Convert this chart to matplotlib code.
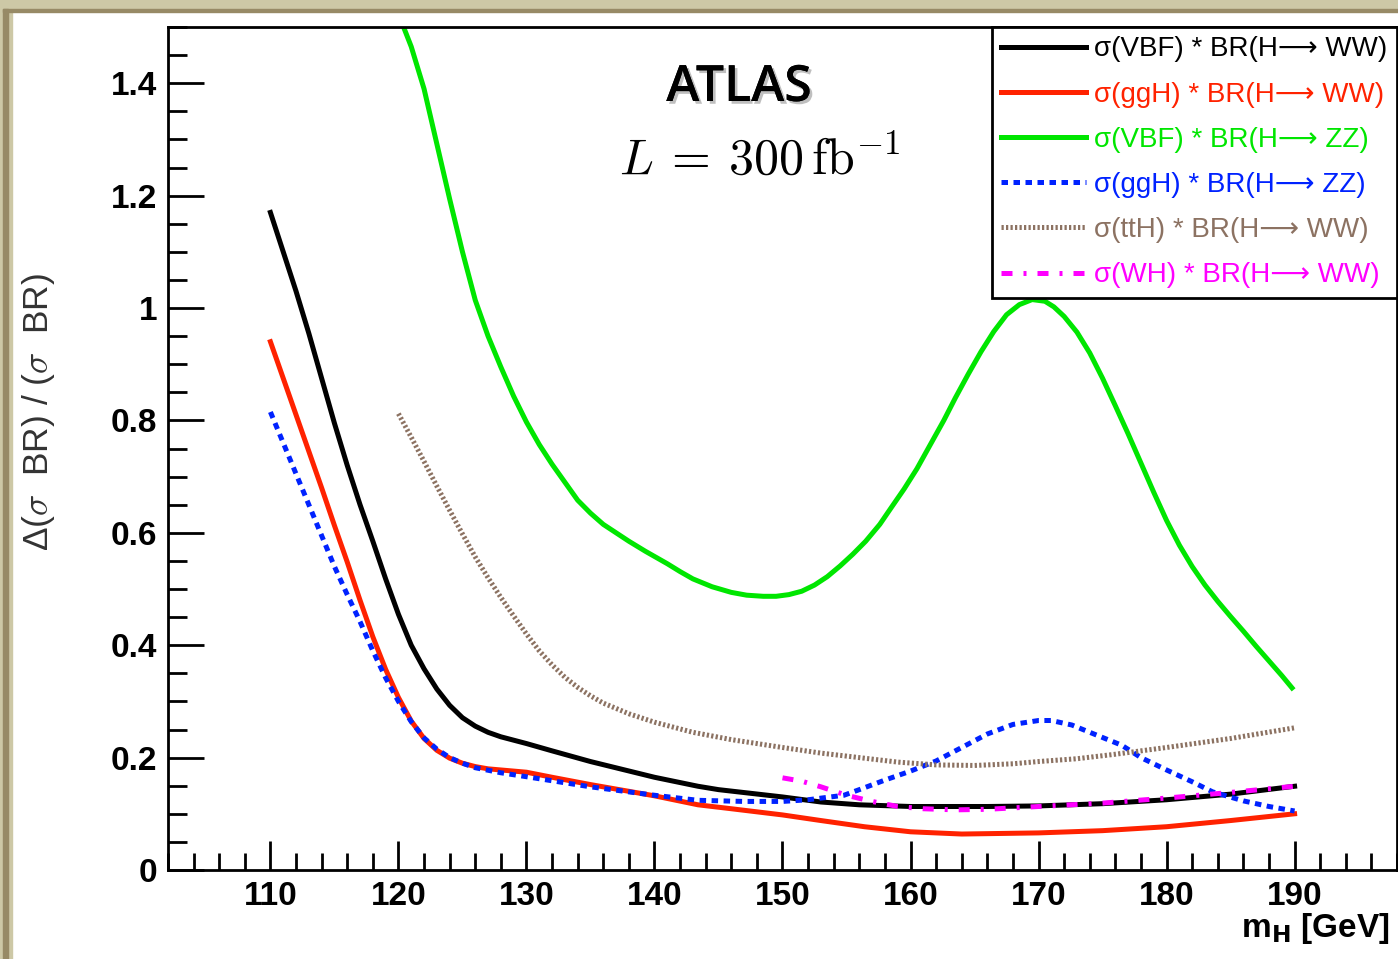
import matplotlib
matplotlib.use("Agg")
import matplotlib.pyplot as plt
import matplotlib.patheffects as pe
from matplotlib.patches import Rectangle
from matplotlib.ticker import MultipleLocator, FuncFormatter

# ---- data (m_H in GeV, relative error) ----
vbf_ww_m = [110, 111, 112, 113, 114, 115, 116, 117, 118, 119, 120, 121, 122, 123, 124,
            125, 126, 127, 128, 130, 132, 135, 140, 143.4, 145, 150, 153, 156, 160, 163,
            166, 170, 175, 180, 185, 190]
vbf_ww = [1.17, 1.10, 1.03, 0.955, 0.875, 0.795, 0.72, 0.65, 0.585, 0.518, 0.455, 0.40,
          0.358, 0.322, 0.293, 0.271, 0.256, 0.245, 0.237, 0.225, 0.212, 0.193, 0.165,
          0.149, 0.143, 0.13, 0.121, 0.116, 0.113, 0.113, 0.113, 0.114, 0.118, 0.125,
          0.135, 0.149]

ggh_ww_m = [110, 111, 112, 113, 114, 115, 116, 117, 118, 119, 120, 121, 122, 123, 124,
            125, 126, 127, 128, 129, 130, 132, 135, 140, 143.4, 146, 150, 153, 156.4, 160,
            164, 167, 170, 175, 180, 185, 190]
ggh_ww = [0.94, 0.875, 0.81, 0.745, 0.68, 0.613, 0.548, 0.48, 0.415, 0.357, 0.307, 0.265,
          0.234, 0.213, 0.199, 0.19, 0.184, 0.18, 0.178, 0.176, 0.174, 0.165, 0.152,
          0.132, 0.116, 0.109, 0.098, 0.088, 0.077, 0.068, 0.064, 0.065, 0.066, 0.07,
          0.077, 0.088, 0.10]

vbf_zz_m = [120, 120.4, 121, 122, 123, 124, 125, 126, 127, 128, 129, 130, 131, 132, 133,
            134, 135, 136, 137, 138, 139.3, 141, 142, 143, 144.5, 146, 147.2, 148.5, 149.5,
            150.5, 151.5, 152.5, 153.5, 154.5, 155.5, 156.5, 157.6, 158.5, 159.5, 160.5,
            161.5, 162.6, 163.5, 164.5, 165.5, 166.5, 167.5, 168.5, 169.5, 170.5, 171.2,
            172, 173, 174, 175, 176, 177, 178, 179, 180, 181, 182, 183, 184, 185, 186,
            187, 188, 189, 189.8]
vbf_zz = [1.53, 1.50, 1.465, 1.39, 1.292, 1.194, 1.10, 1.014, 0.95, 0.895, 0.843, 0.797,
          0.757, 0.722, 0.69, 0.658, 0.635, 0.615, 0.60, 0.585, 0.567, 0.545, 0.531, 0.518,
          0.504, 0.494, 0.489, 0.487, 0.487, 0.49, 0.496, 0.507, 0.522, 0.541, 0.562,
          0.585, 0.615, 0.645, 0.678, 0.714, 0.755, 0.80, 0.84, 0.882, 0.922, 0.958,
          0.988, 1.006, 1.015, 1.012, 1.002, 0.985, 0.957, 0.92, 0.875, 0.826, 0.776,
          0.724, 0.672, 0.622, 0.578, 0.54, 0.507, 0.478, 0.451, 0.425, 0.398, 0.372,
          0.346, 0.324]

ggh_zz_m = [110, 111, 112, 113, 114, 115, 116, 117, 118, 119, 120, 121, 122, 123, 124,
            125, 126, 128, 130, 135, 140, 143.4, 147, 150, 152, 154.8, 156, 158, 160, 162,
            164, 166, 168, 170, 171, 172.6, 174, 176.5, 178, 180, 182, 183.6, 186, 188, 190]
ggh_zz = [0.815, 0.76, 0.705, 0.65, 0.595, 0.54, 0.49, 0.442, 0.39, 0.342, 0.30, 0.264,
          0.235, 0.215, 0.20, 0.19, 0.182, 0.173, 0.166, 0.148, 0.133, 0.124, 0.122,
          0.122, 0.125, 0.133, 0.143, 0.16, 0.176, 0.194, 0.218, 0.242, 0.259, 0.266,
          0.266, 0.258, 0.245, 0.222, 0.20, 0.178, 0.157, 0.139, 0.123, 0.113, 0.105]

tth_ww_m = [120, 121, 122, 123, 124, 125, 126, 127, 128, 129, 130, 131, 132, 133, 134, 135,
            136, 138, 140, 143, 146, 150, 153, 156, 159, 162, 165, 168, 170, 173, 176,
            180, 185, 190]
tth_ww = [0.812, 0.77, 0.727, 0.683, 0.64, 0.598, 0.557, 0.52, 0.485, 0.452, 0.42, 0.39,
          0.365, 0.343, 0.325, 0.31, 0.297, 0.278, 0.263, 0.245, 0.232, 0.218, 0.208,
          0.20, 0.192, 0.187, 0.186, 0.189, 0.193, 0.198, 0.206, 0.218, 0.234, 0.253]

wh_ww_m = [150, 151.5, 153, 155, 157, 159, 161, 163.5, 166, 170, 175, 180, 185, 190]
wh_ww = [0.164, 0.158, 0.148, 0.133, 0.122, 0.113, 0.109, 0.107, 0.108, 0.113, 0.119,
         0.128, 0.138, 0.149]

labels = [
    "σ(VBF) * BR(H⟶ WW)",
    "σ(ggH) * BR(H⟶ WW)",
    "σ(VBF) * BR(H⟶ ZZ)",
    "σ(ggH) * BR(H⟶ ZZ)",
    "σ(ttH) * BR(H⟶ WW)",
    "σ(WH) * BR(H⟶ WW)",
]

# ---- figure ----
W, H = 1398, 959
fig = plt.figure(figsize=(W / 100, H / 100), dpi=100)
fig.patch.set_facecolor("white")

# slide frame in the corner of the screenshot
fig.patches.append(Rectangle((0, 1 - 10 / H), 1, 10 / H, transform=fig.transFigure,
                             color="#cdc8a6", zorder=-5))
fig.patches.append(Rectangle((3 / W, 1 - 12 / H), 1, 3 / H, transform=fig.transFigure,
                             color="#978a66", zorder=-4))
fig.patches.append(Rectangle((0, 0), 12 / W, 1, transform=fig.transFigure,
                             color="#cdc8a6", zorder=-5))
fig.patches.append(Rectangle((3 / W, 0), 5 / W, 1 - 9 / H, transform=fig.transFigure,
                             color="#978a66", zorder=-4))

ax = fig.add_axes([168 / W, 1 - 870 / H, 1229 / W, 843 / H])

lw = 3.6
ax.plot(vbf_ww_m, vbf_ww, color="black", lw=lw, label=labels[0])
ax.plot(ggh_ww_m, ggh_ww, color="#ff2200", lw=lw, label=labels[1])
ax.plot(vbf_zz_m, vbf_zz, color="#00e600", lw=lw, label=labels[2])
ax.plot(ggh_zz_m, ggh_zz, color="#0022ff", lw=lw, ls=(0, (1.3, 1.1)), label=labels[3])
ax.plot(tth_ww_m, tth_ww, color="#8c7262", lw=lw, ls=(0, (0.45, 0.45)), label=labels[4])
ax.plot(wh_ww_m, wh_ww, color="#ff00ff", lw=lw, ls=(0, (2.2, 2.2, 0.6, 2.2)), label=labels[5])

ax.set_xlim(102, 198)
ax.set_ylim(0, 1.5)

ax.xaxis.set_major_locator(MultipleLocator(10))
ax.xaxis.set_minor_locator(MultipleLocator(2))
ax.yaxis.set_major_locator(MultipleLocator(0.2))
ax.yaxis.set_minor_locator(MultipleLocator(0.05))
ax.yaxis.set_major_formatter(FuncFormatter(lambda v, p: "%g" % round(v, 2)))
ax.xaxis.set_major_formatter(FuncFormatter(lambda v, p: "%d" % round(v)))

ax.tick_params(axis="x", which="major", direction="in", length=21, width=2, pad=8)
ax.tick_params(axis="x", which="minor", direction="in", length=12, width=2)
ax.tick_params(axis="y", which="major", direction="in", length=26, width=2, pad=8)
ax.tick_params(axis="y", which="minor", direction="in", length=14, width=2)
for lab in ax.get_xticklabels() + ax.get_yticklabels():
    lab.set_fontfamily("Liberation Sans")
    lab.set_fontweight("bold")
    lab.set_fontsize(24)
for s in ax.spines.values():
    s.set_linewidth(2)

# axis titles
fig.text(1390 / W, 1 - 928 / H, r"m$_{\mathbf{H}}$ [GeV]", ha="right", va="center",
         fontsize=24, fontweight="bold", family="Liberation Sans",
         math_fontfamily="dejavusans")
fig.text(39 / W, 1 - 412 / H, r"Δ($\sigma$  BR) / ($\sigma$  BR)", rotation=90,
         ha="center", va="center", fontsize=25.5, color="#333333",
         family=["Liberation Sans", "DejaVu Sans"], math_fontfamily="cm")

# labels inside the frame
fig.text(739 / W, 1 - 88 / H, "ATLAS", ha="center", va="center", fontsize=36,
         family="Open Sans", fontweight="semibold",
         path_effects=[pe.withSimplePatchShadow(offset=(2, -2), shadow_rgbFace="gray",
                                                alpha=0.5), pe.Normal()])
fig.text(760 / W, 1 - 160 / H, r"$L\:=\:300\,\mathrm{fb}^{-1}$", ha="center",
         va="center", fontsize=36, math_fontfamily="cm")

leg = ax.legend(loc="upper right", bbox_to_anchor=(1, 1), borderaxespad=0,
                prop={"family": ["Liberation Sans", "DejaVu Sans"], "size": 20},
                handlelength=3.06, handletextpad=0.29, labelspacing=0.69,
                borderpad=0.34, fancybox=False, framealpha=1, edgecolor="black")
leg.get_frame().set_linewidth(2)
for line, txt in zip(leg.get_lines(), leg.get_texts()):
    txt.set_color(line.get_color())

fig.savefig("out.png", dpi=100)
